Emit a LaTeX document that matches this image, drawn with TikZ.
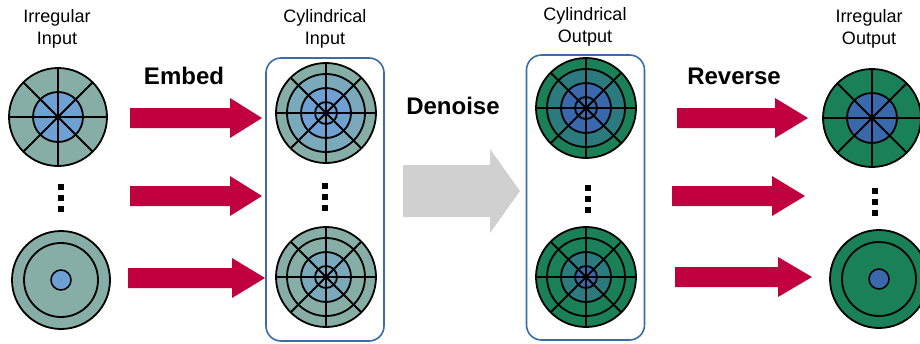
\documentclass[tikz,border=0pt]{standalone}
\usepackage{fontspec}
\setmainfont{Liberation Sans}
\definecolor{tgrey}{HTML}{86AEA6}
\definecolor{lblue}{HTML}{6FA0D4}
\definecolor{bgrey}{HTML}{7AA9BC}
\definecolor{dgreen}{HTML}{1A8057}
\definecolor{dteal}{HTML}{2B7A7D}
\definecolor{dblue}{HTML}{3A68AD}
\definecolor{crim}{HTML}{C0003F}
\definecolor{boxblue}{HTML}{3B6CAA}
\definecolor{lgray}{HTML}{D0D0D0}
\tikzset{
  ln/.style={line width=1.8pt, black},
  lab/.style={align=center, font=\fontsize{18}{22}\selectfont, inner sep=0pt},
  act/.style={font=\fontsize{24}{28}\selectfont\bfseries, inner sep=0pt},
  grp/.style={draw=boxblue, line width=1.6pt, rounded corners=15pt, minimum width=118pt, inner sep=0pt}
}
\newcommand\cylDisk[6]{%
  \begin{scope}[shift={(#1,#2)}]
    \fill[#3] (0,0) circle[radius=50pt];
    \fill[#4] (0,0) circle[radius=39pt];
    \fill[#5] (0,0) circle[radius=25pt];
    \fill[#6] (0,0) circle[radius=11pt];
    \foreach \a in {0,45,90,135} \draw[ln] (\a:50) -- (\a+180:50);
    \foreach \r in {39,25,11} \draw[ln] (0,0) circle[radius=\r pt];
    \draw[ln] (0,0) circle[radius=50pt];
  \end{scope}}
\newcommand\irrDisk[4]{%
  \begin{scope}[shift={(#1,#2)}]
    \fill[#3] (0,0) circle[radius=49pt];
    \fill[#4] (0,0) circle[radius=25pt];
    \foreach \a in {0,45,90,135} \draw[ln] (\a:49) -- (\a+180:49);
    \draw[ln] (0,0) circle[radius=25pt];
    \draw[ln] (0,0) circle[radius=49pt];
  \end{scope}}
\newcommand\ringDisk[4]{%
  \begin{scope}[shift={(#1,#2)}]
    \fill[#3] (0,0) circle[radius=49pt];
    \draw[ln] (0,0) circle[radius=49pt];
    \draw[ln] (0,0) circle[radius=37pt];
    \filldraw[fill=#4, line width=1.5pt] (0,0) circle[radius=10pt];
  \end{scope}}
\newcommand\fatArrow[7]{%
  \fill[#7] ({#1},{#4-#5}) -- ({#2},{#4-#5}) -- ({#2},{#4-#6}) -- ({#3},{#4})
    -- ({#2},{#4+#6}) -- ({#2},{#4+#5}) -- ({#1},{#4+#5}) -- cycle;}
\newcommand\dotStack[2]{%
  \foreach \d in {0,11,22} \fill ({#1-3},{#2+\d-3}) rectangle ({#1+3},{#2+\d+3});}
\begin{document}
\begin{tikzpicture}[x=1pt,y=-1pt]
\useasboundingbox (0,0) rectangle (920,343);
% group boxes
\node[grp, minimum height=283pt] (inbox) at (325,199.5) {};
\node[grp, minimum height=285pt] (outbox) at (585.5,197.5) {};
% labels
\node[lab] (l1) at (57,29) {Irregular\\Input};
\node[lab] (l2) at (325,29) {Cylindrical\\Input};
\node[lab] (l3) at (585,27) {Cylindrical\\Output};
\node[lab] (l4) at (869,29) {Irregular\\Output};
\node[act] (embed) at (184,76) {Embed};
\node[act] (denoise) at (453,106) {Denoise};
\node[act] (reverse) at (734,76) {Reverse};
% irregular input
\irrDisk{58}{117}{tgrey}{lblue}
\ringDisk{61}{280}{tgrey}{lblue}
\dotStack{61}{187}
% cylindrical input
\cylDisk{326}{113}{tgrey}{bgrey}{lblue}{lblue}
\cylDisk{326}{277}{tgrey}{tgrey}{bgrey}{bgrey}
\dotStack{325}{186}
% cylindrical output
\cylDisk{586}{108}{dgreen}{dteal}{dblue}{dblue}
\cylDisk{586}{277}{dgreen}{dgreen}{dteal}{dblue}
\dotStack{588}{188}
% irregular output
\irrDisk{872}{118}{dgreen}{dblue}
\ringDisk{879}{279}{dgreen}{dblue}
\dotStack{875}{191}
% arrows
\fatArrow{130}{230}{262}{118}{10}{20}{crim}
\fatArrow{130}{230}{262}{196}{10}{20}{crim}
\fatArrow{128}{232}{265}{278}{10}{20}{crim}
\fatArrow{403}{490}{520}{191}{26}{42}{lgray}
\fatArrow{677}{775}{808}{118}{10}{20}{crim}
\fatArrow{672}{772}{805}{196}{10}{20}{crim}
\fatArrow{675}{778}{812}{277}{10}{20}{crim}
\end{tikzpicture}
\end{document}
